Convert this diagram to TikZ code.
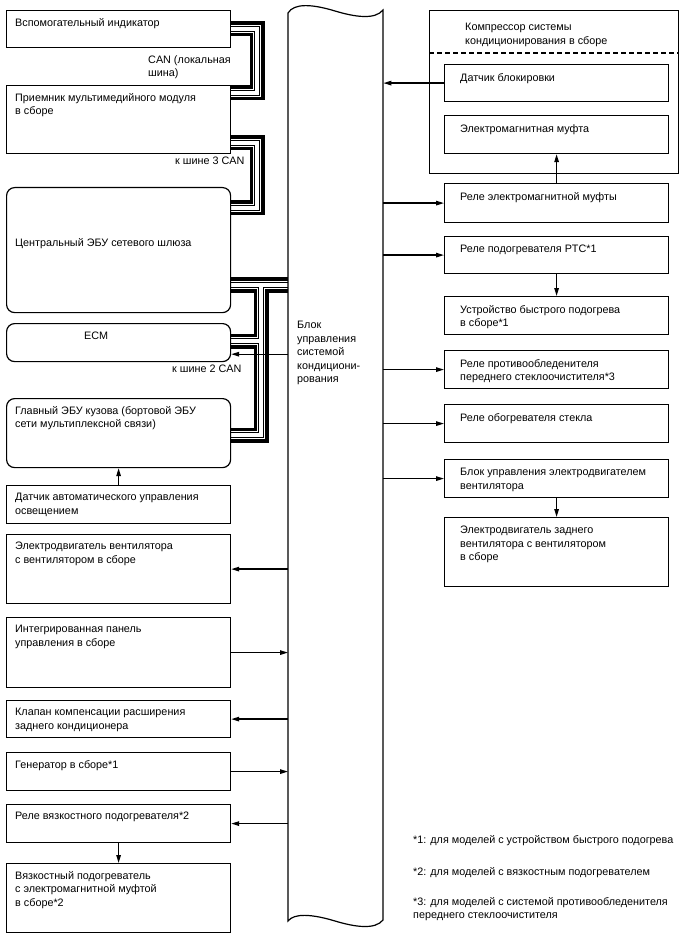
\documentclass[tikz,border=0pt]{standalone}
\usepackage{fontspec}
\setmainfont{Liberation Sans}
\usepackage{tikz}
\usetikzlibrary{positioning,arrows.meta,calc,backgrounds}
\tikzset{
  blk/.style={draw, line width=1.2pt, minimum width=224pt, inner sep=0pt, anchor=north west},
  rblk/.style={blk, rounded corners=8pt},
  txt/.style={anchor=north west, align=left, inner sep=0pt, font=\fontsize{10.8}{13.5}\selectfont},
  lbl/.style={txt, xshift=9pt, yshift=-8pt},
  rlbl/.style={txt, xshift=16pt, yshift=-9pt},
  arr/.style={-{Triangle[length=8pt,width=4.5pt]}, line width=1.3pt},
  wave/.style={line width=1.2pt},
  dsh/.style={line width=1.2pt, dash pattern=on 5pt off 3pt}
}
\begin{document}
\begin{tikzpicture}[x=1pt, y=-1pt]
\useasboundingbox (0,0) rectangle (688,949);

\coordinate (can1a) at (257,29);
\coordinate (can1b) at (257,93);
\coordinate (can2a) at (257,143);
\coordinate (can2b) at (257,208);
\coordinate (can3) at (261,285);
\coordinate (can3e) at (261,341);
\coordinate (can3b) at (261,435);

\node[minimum width=95pt, minimum height=910pt, inner sep=0pt, anchor=north west] (ecu) at (288,10) {};

\node[blk, minimum height=37pt, label={[lbl]north west:Вспомогательный индикатор}] (aux) at (6,10) {};
\node[blk, minimum height=68pt, label={[lbl]north west:{Приемник мультимедийного модуля\\в сборе}}] (mm) at (6,85) {};
\node[rblk, minimum height=125pt, label={[txt, anchor=west, xshift=9pt, yshift=6pt]west:Центральный ЭБУ сетевого шлюза}] (gw) at (6,187) {};
\node[rblk, minimum height=38pt, label={[txt, xshift=78pt, yshift=-9pt]north west:ECM}] (ecm) at (6,323) {};
\node[rblk, minimum height=69pt, label={[lbl]north west:{Главный ЭБУ кузова (бортовой ЭБУ\\сети мультиплексной связи)}}] (bcm) at (6,398) {};
\node[blk, minimum height=38pt, label={[lbl]north west:{Датчик автоматического управления\\освещением}}] (lsen) at (6,485) {};
\node[blk, minimum height=69pt, label={[lbl]north west:{Электродвигатель вентилятора\\с вентилятором в сборе}}] (fanm) at (6,534) {};
\node[blk, minimum height=70pt, label={[lbl]north west:{Интегрированная панель\\управления в сборе}}] (panel) at (6,617) {};
\node[blk, minimum height=37pt, label={[lbl]north west:{Клапан компенсации расширения\\заднего кондиционера}}] (valve) at (6,700) {};
\node[blk, minimum height=38pt, label={[lbl]north west:Генератор в сборе*1}] (gen) at (6,752) {};
\node[blk, minimum height=38pt, label={[lbl]north west:Реле вязкостного подогревателя*2}] (vrel) at (6,804) {};
\node[blk, minimum height=69pt, label={[lbl]north west:{Вязкостный подогреватель\\с электромагнитной муфтой\\в сборе*2}}] (vheat) at (6,863) {};

\node[blk, minimum width=249pt, minimum height=163pt, label={[txt, xshift=36pt, yshift=-13pt]north west:{Компрессор системы\\кондиционирования в сборе}}] (comp) at (429,10) {};
\node[blk, minimum height=37pt, label={[rlbl]north west:Датчик блокировки}] (lock) at (444,64) {};
\node[blk, minimum height=38pt, label={[rlbl]north west:Электромагнитная муфта}] (clutch) at (444,115) {};
\node[blk, minimum height=39pt, label={[rlbl]north west:Реле электромагнитной муфты}] (clr) at (444,183) {};
\node[blk, minimum height=37pt, label={[rlbl]north west:Реле подогревателя PTC*1}] (ptc) at (444,236) {};
\node[blk, minimum height=38pt, label={[rlbl]north west:{Устройство быстрого подогрева\\в сборе*1}}] (quick) at (444,296) {};
\node[blk, minimum height=38pt, label={[rlbl]north west:{Реле противообледенителя\\переднего стеклоочистителя*3}}] (deice) at (444,350) {};
\node[blk, minimum height=38pt, label={[rlbl]north west:Реле обогревателя стекла}] (glass) at (444,404) {};
\node[blk, minimum height=38pt, label={[rlbl]north west:{Блок управления электродвигателем\\вентилятора}}] (fanctl) at (444,459) {};
\node[blk, minimum height=69pt, label={[rlbl]north west:{Электродвигатель заднего\\вентилятора с вентилятором\\в сборе}}] (rearfan) at (444,517) {};

\draw[dsh] ($(comp.north west)+(0,43)$) -- ($(comp.north east)+(0,43)$);

\begin{scope}[on background layer]
\foreach \w/\c in {15/black, 8/white, 5.4/black, 3.2/white}{
  \draw[line width=\w pt, draw=\c] (aux.east |- can1a) -- (can1a) -- (can1b) -- (mm.east |- can1b);
  \draw[line width=\w pt, draw=\c] (mm.east |- can2a) -- (can2a) -- (can2b) -- (gw.east |- can2b);
  \draw[line width=\w pt, draw=\c] (gw.east |- can3) -- (can3 -| ecu.west);
  \draw[line width=\w pt, draw=\c] (can3) -- (can3b) -- (bcm.east |- can3b);
  \draw[line width=\w pt, draw=\c] (ecm.east |- can3e) -- (can3e);
}
\end{scope}

\draw[wave] (288,13) .. controls (294,3) and (312,4) .. (335,11)
  .. controls (355,17) and (375,20) .. (383,10) -- (383,920)
  .. controls (375,930) and (355,927) .. (335,921)
  .. controls (312,914) and (294,913) .. (288,921) -- cycle;
\node[txt] (ecutxt) at (297,321) {Блок\\управления\\системой\\кондициони-\\рования};

\node[txt] (canloc) at (148,55) {CAN (локальная\\шина)};
\node[txt] (can3lbl) at (175,157) {к шине 3 CAN};
\node[txt] (can2lbl) at (172,365) {к шине 2 CAN};

\draw[arr] (lock.west) -- (lock.west -| ecu.east);
\draw[arr] (clr.west -| ecu.east) -- (clr.west);
\draw[arr] (ptc.west -| ecu.east) -- (ptc.west);
\draw[arr] (deice.west -| ecu.east) -- (deice.west);
\draw[arr] (glass.west -| ecu.east) -- (glass.west);
\draw[arr] (fanctl.west -| ecu.east) -- (fanctl.west);
\draw[arr] (clr.north) -- (clutch.south);
\draw[arr] (ptc.south) -- (quick.north);
\draw[arr] (fanctl.south) -- (rearfan.north);

\coordinate (ecmin) at ($(ecm.south east)+(0,-8)$);
\draw[arr] (ecmin -| ecu.west) -- (ecmin);
\draw[arr] (lsen.north) -- (bcm.south);
\draw[arr] (fanm.east -| ecu.west) -- (fanm.east);
\draw[arr] (panel.east) -- (panel.east -| ecu.west);
\draw[arr] (valve.east -| ecu.west) -- (valve.east);
\draw[arr] (gen.east) -- (gen.east -| ecu.west);
\draw[arr] (vrel.east -| ecu.west) -- (vrel.east);
\draw[arr] (vrel.south) -- (vheat.north);

\node[txt] (note1) at (413,835) {*1: для моделей с устройством быстрого подогрева};
\node[txt] (note2) at (413,867) {*2: для моделей с вязкостным подогревателем};
\node[txt] (note3) at (413,897) {*3: для моделей с системой противообледенителя\\переднего стеклоочистителя};
\end{tikzpicture}
\end{document}
